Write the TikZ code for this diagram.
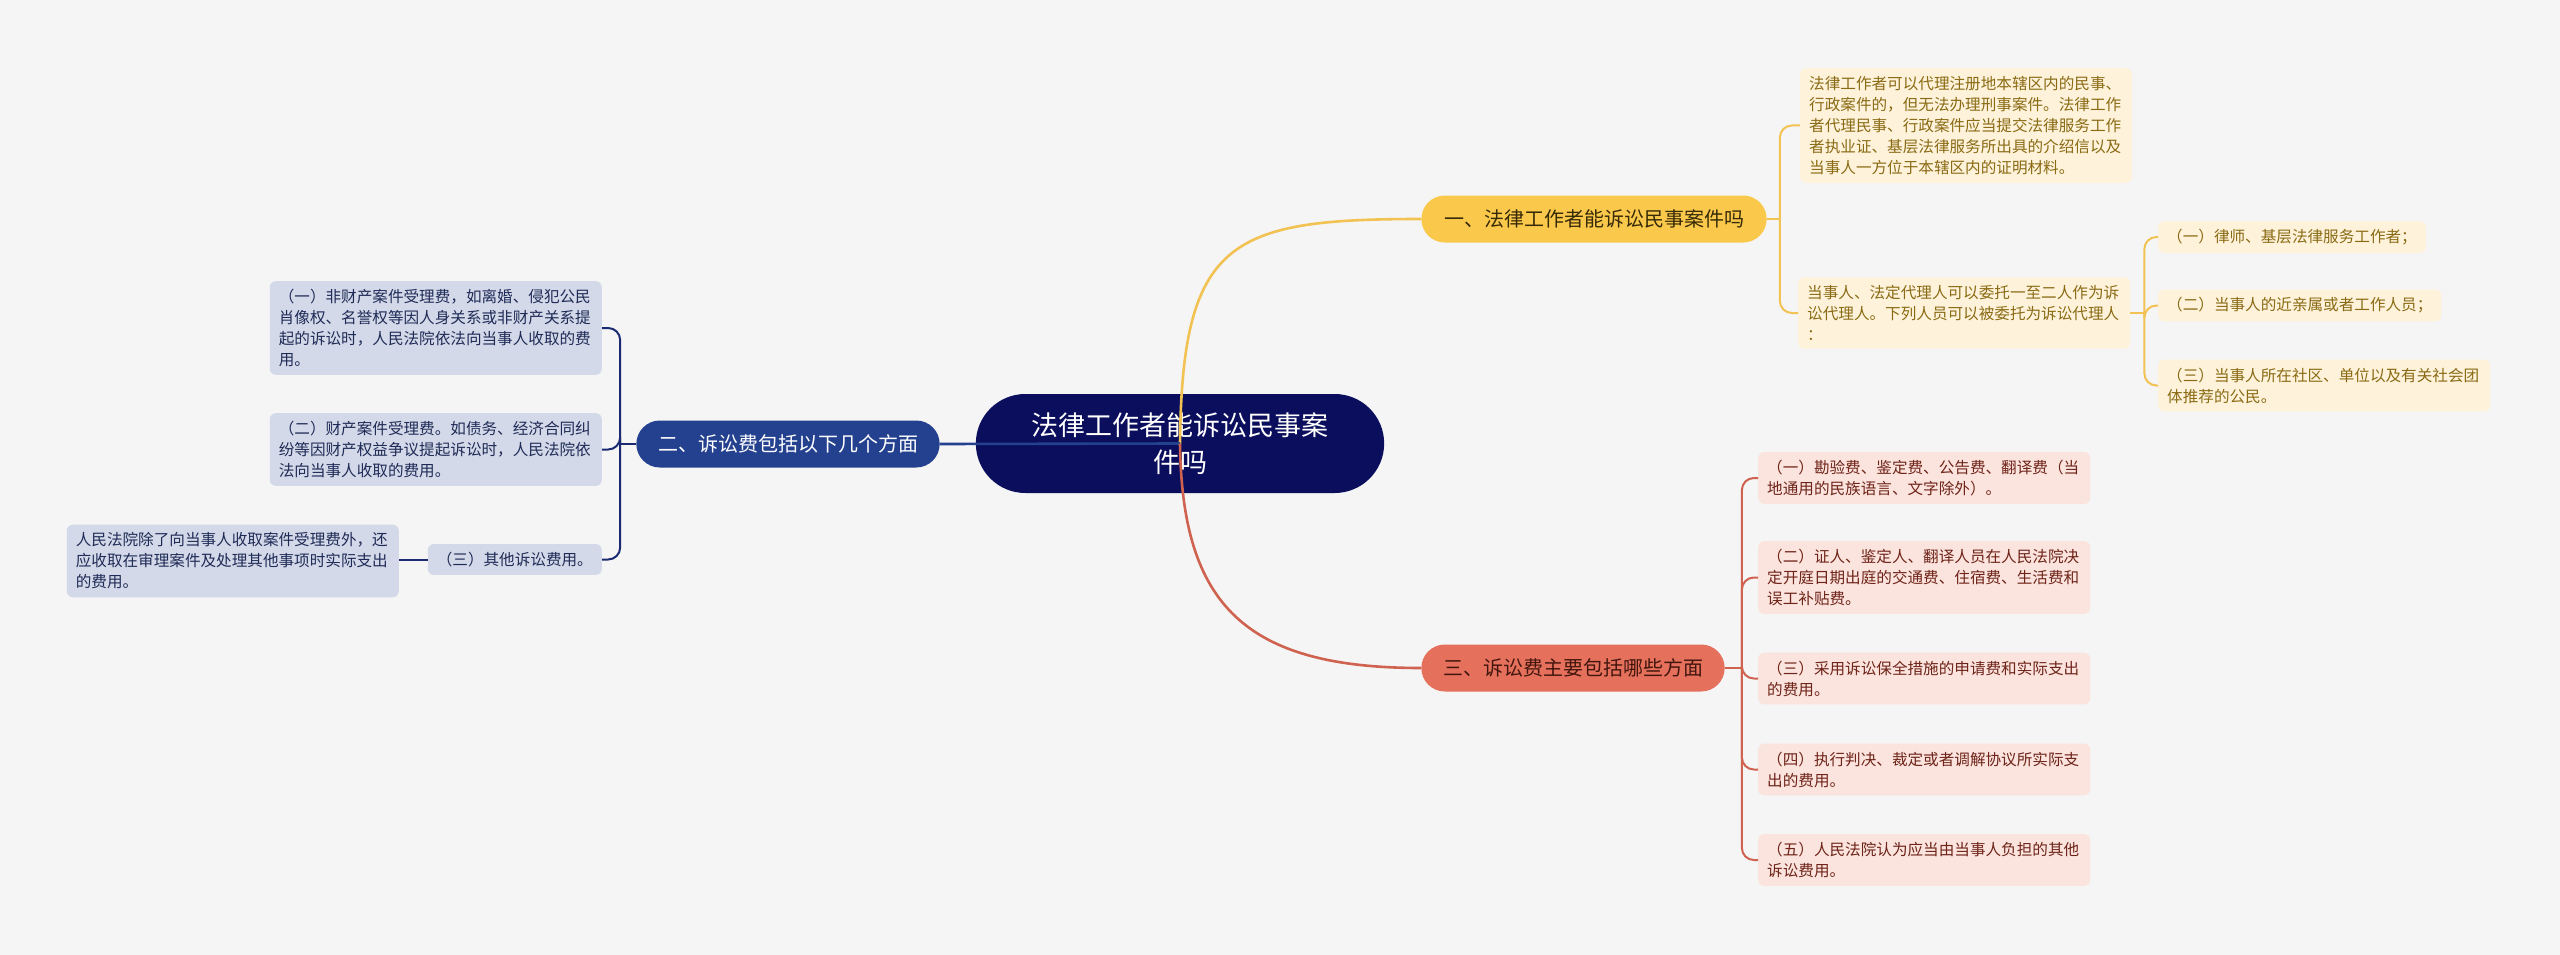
\documentclass[tikz,border=0pt]{standalone}
\usepackage{fontspec}
\setmainfont{Noto Sans CJK SC}
\usepackage{xcolor}
\usepackage{tikz}
\usetikzlibrary{shapes.misc, positioning}

\definecolor{bgcol}{HTML}{F5F5F5}
\definecolor{rootcol}{HTML}{0A0E5C}
\definecolor{yelcol}{HTML}{FAC84B}
\definecolor{yelleaf}{HTML}{FEF3DA}
\definecolor{yeltext}{HTML}{8A6A14}
\definecolor{yelline}{HTML}{F2C253}
\definecolor{redcol}{HTML}{E5705B}
\definecolor{redleaf}{HTML}{FBE3DE}
\definecolor{redtext}{HTML}{6E2418}
\definecolor{redline}{HTML}{CF6350}
\definecolor{blucol}{HTML}{24418F}
\definecolor{bluleaf}{HTML}{D3D9E8}
\definecolor{blutext}{HTML}{1F2B57}
\definecolor{bluline}{HTML}{1B2B72}

\begin{document}
\begin{tikzpicture}[
    x=1pt, y=-1pt,
    root_block/.style={rounded rectangle, fill=rootcol, text=white, align=center, minimum width=415pt, minimum height=99pt, font=\fontsize{27}{37}\selectfont},
    main_block/.style={rounded rectangle, minimum height=47pt, font=\fontsize{20}{24}\selectfont},
    leaf/.style={rectangle, rounded corners=6pt, align=left, inner xsep=9pt, inner ysep=8pt, font=\fontsize{15.6}{21}\selectfont},
    wide_leaf/.style={leaf, text width=314pt},
    yel_leaf/.style={fill=yelleaf, text=yeltext},
    red_leaf/.style={fill=redleaf, text=redtext},
    blu_leaf/.style={fill=bluleaf, text=blutext},
    main_line/.style={line width=2.6pt},
    sub_line/.style={line width=2pt, rounded corners=12pt}
]
\useasboundingbox (0,0) rectangle (2560,955);
\fill[bgcol] (0,0) rectangle (2560,955);

% Nodes
\node[root_block] (root) at (1180,443.5) {法律工作者能诉讼民事案\\件吗};
\node[main_block, fill=yelcol, text=yeltext!40!black, minimum width=352pt] (law) at (1594,219) {一、法律工作者能诉讼民事案件吗};
\node[main_block, fill=blucol, text=white, minimum width=310pt] (fee) at (788,444) {二、诉讼费包括以下几个方面};
\node[main_block, fill=redcol, text=redtext!60!black, minimum width=310pt] (cost) at (1573,668) {三、诉讼费主要包括哪些方面};

% Yellow branch
\node[wide_leaf, yel_leaf, anchor=west] (law_a) at (1800,125.5) {法律工作者可以代理注册地本辖区内的民事、\\行政案件的，但无法办理刑事案件。法律工作\\者代理民事、行政案件应当提交法律服务工作\\者执业证、基层法律服务所出具的介绍信以及\\当事人一方位于本辖区内的证明材料。};
\node[wide_leaf, yel_leaf, anchor=west] (law_b) at (1798,313) {当事人、法定代理人可以委托一至二人作为诉\\讼代理人。下列人员可以被委托为诉讼代理人\\：};
\node[leaf, yel_leaf, anchor=west] (agent_a) at (2158,237) {（一）律师、基层法律服务工作者；};
\node[leaf, yel_leaf, anchor=west] (agent_b) at (2158,305.5) {（二）当事人的近亲属或者工作人员；};
\node[wide_leaf, yel_leaf, anchor=west] (agent_c) at (2158,385.5) {（三）当事人所在社区、单位以及有关社会团\\体推荐的公民。};

% Blue branch
\node[wide_leaf, blu_leaf, anchor=east] (fee_a) at (602,328) {（一）非财产案件受理费，如离婚、侵犯公民\\肖像权、名誉权等因人身关系或非财产关系提\\起的诉讼时，人民法院依法向当事人收取的费\\用。};
\node[wide_leaf, blu_leaf, anchor=east] (fee_b) at (602,449.5) {（二）财产案件受理费。如债务、经济合同纠\\纷等因财产权益争议提起诉讼时，人民法院依\\法向当事人收取的费用。};
\node[leaf, blu_leaf, anchor=east] (fee_c) at (602,559.5) {（三）其他诉讼费用。};
\node[wide_leaf, blu_leaf, anchor=east] (fee_d) at (399,561) {人民法院除了向当事人收取案件受理费外，还\\应收取在审理案件及处理其他事项时实际支出\\的费用。};

% Red branch
\node[wide_leaf, red_leaf, anchor=west] (cost_a) at (1758,478) {（一）勘验费、鉴定费、公告费、翻译费（当\\地通用的民族语言、文字除外）。};
\node[wide_leaf, red_leaf, anchor=west] (cost_b) at (1758,577.5) {（二）证人、鉴定人、翻译人员在人民法院决\\定开庭日期出庭的交通费、住宿费、生活费和\\误工补贴费。};
\node[wide_leaf, red_leaf, anchor=west] (cost_c) at (1758,678.5) {（三）采用诉讼保全措施的申请费和实际支出\\的费用。};
\node[wide_leaf, red_leaf, anchor=west] (cost_d) at (1758,769.5) {（四）执行判决、裁定或者调解协议所实际支\\出的费用。};
\node[wide_leaf, red_leaf, anchor=west] (cost_e) at (1758,860) {（五）人民法院认为应当由当事人负担的其他\\诉讼费用。};

% Junctions
\coordinate (law_j) at ([xshift=13pt]law.east);
\coordinate (agent_j) at ([xshift=14pt]law_b.east);
\coordinate (fee_j) at ([xshift=-16pt]fee.west);
\coordinate (cost_j) at ([xshift=17pt]cost.east);

% Connectors
\draw[main_line, yelline] (root.center) .. controls (1182,240) and (1230,219) .. (law.west);
\draw[main_line, blucol] (root.center) -- (fee.east);
\draw[main_line, redline] (root.center) .. controls (1182,605) and (1245,668) .. (cost.west);

\draw[sub_line, yelline] (law.east) -- (law_j);
\draw[sub_line, yelline] (law_j) |- (law_a.west);
\draw[sub_line, yelline] (law_j) |- (law_b.west);
\draw[sub_line, yelline] (law_b.east) -- (agent_j);
\draw[sub_line, yelline] (agent_j) |- (agent_a.west);
\draw[sub_line, yelline] (agent_j) |- (agent_b.west);
\draw[sub_line, yelline] (agent_j) |- (agent_c.west);

\draw[sub_line, bluline] (fee.west) -- (fee_j);
\draw[sub_line, bluline] (fee_j) |- (fee_a.east);
\draw[sub_line, bluline] (fee_j) |- (fee_b.east);
\draw[sub_line, bluline] (fee_j) |- (fee_c.east);
\draw[sub_line, bluline] (fee_c.west) -- (fee_c.west -| fee_d.east);

\draw[sub_line, redline] (cost.east) -- (cost_j);
\draw[sub_line, redline] (cost_j) |- (cost_a.west);
\draw[sub_line, redline] (cost_j) |- (cost_b.west);
\draw[sub_line, redline] (cost_j) |- (cost_c.west);
\draw[sub_line, redline] (cost_j) |- (cost_d.west);
\draw[sub_line, redline] (cost_j) |- (cost_e.west);

\end{tikzpicture}
\end{document}
